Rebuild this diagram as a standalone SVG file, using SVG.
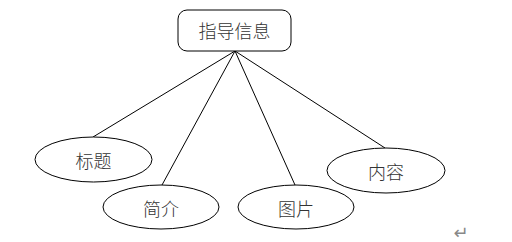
<svg xmlns="http://www.w3.org/2000/svg" width="512" height="242" viewBox="0 0 512 242">
<style>
.shape{fill:#fff;stroke:#000;stroke-width:1}
.lbl{font-family:"Noto Sans CJK SC","Noto Sans CJK JP",sans-serif;font-size:18px;font-weight:300;fill:#333;text-anchor:middle;dominant-baseline:central}
.conn{stroke:#000;stroke-width:1;fill:none}
</style>
<rect width="512" height="242" fill="#fff"/>
<g id="connectors">
<line class="conn" x1="235" y1="51" x2="93" y2="137"/>
<line class="conn" x1="235" y1="51" x2="162" y2="185"/>
<line class="conn" x1="235" y1="51" x2="295" y2="185"/>
<line class="conn" x1="235" y1="51" x2="385" y2="148"/>
</g>
<g id="node-root">
<rect class="shape" x="178" y="10" width="113" height="41" rx="9"/>
<text class="lbl" x="234.5" y="30">指导信息</text>
</g>
<g id="node-title">
<ellipse class="shape" cx="93.5" cy="159.5" rx="58.5" ry="22.5"/>
<text class="lbl" x="93.5" y="160">标题</text>
</g>
<g id="node-intro">
<ellipse class="shape" cx="161" cy="207" rx="58" ry="22"/>
<text class="lbl" x="161" y="208">简介</text>
</g>
<g id="node-image">
<ellipse class="shape" cx="296" cy="207" rx="58" ry="22"/>
<text class="lbl" x="296" y="208">图片</text>
</g>
<g id="node-content">
<ellipse class="shape" cx="386" cy="170.5" rx="59" ry="22.5"/>
<text class="lbl" x="386" y="171">内容</text>
</g>
<text x="461" y="239" font-family="DejaVu Sans,sans-serif" font-size="18" fill="#888" text-anchor="middle">↵</text>
</svg>
